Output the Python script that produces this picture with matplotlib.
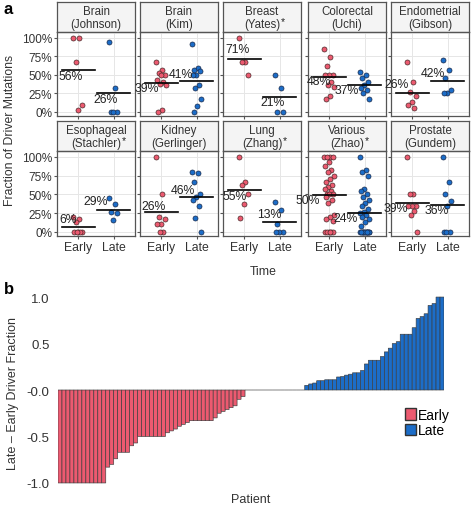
import numpy as np
import matplotlib
matplotlib.use("Agg")
import matplotlib.pyplot as plt
from matplotlib.patches import Patch

plt.rcParams['font.family'] = ['Liberation Sans', 'DejaVu Sans']

# ---- data: panel a (fraction of driver mutations per sample) ----
facet_top = ["Brain", "Brain", "Breast", "Colorectal", "Endometrial",
             "Esophageal", "Kidney", "Lung", "Various", "Prostate"]
facet_study = ["(Johnson)", "(Kim)", "(Yates)", "(Uchi)", "(Gibson)",
               "(Stachler)", "(Gerlinger)", "(Zhang)", "(Zhao)", "(Gundem)"]
starred = [False, False, True, False, False, True, False, True, True, False]

early_vals = [
    [1.0, 1.0, 0.67, 0.10, 0.03],
    [0.67, 0.56, 0.53, 0.50, 0.50, 0.43, 0.40, 0.38, 0.36, 0.02, 0.0],
    [1.0, 0.67, 0.67, 0.50],
    [0.85, 0.74, 0.62, 0.50, 0.50, 0.50, 0.41, 0.37, 0.34, 0.21, 0.18],
    [0.67, 0.40, 0.27, 0.22, 0.13, 0.09, 0.05],
    [0.20, 0.17, 0.13, 0.0, 0.0, 0.0, 0.0, 0.0],
    [1.0, 0.50, 0.20, 0.17, 0.11, 0.11, 0.0, 0.0],
    [1.0, 0.67, 0.63, 0.50, 0.37, 0.18],
    [1.0, 1.0, 1.0, 1.0, 0.93, 0.88, 0.83, 0.80, 0.75, 0.71, 0.67, 0.63, 0.60, 0.57, 0.55,
     0.50, 0.50, 0.50, 0.47, 0.42, 0.38, 0.22, 0.20, 0.17, 0.14, 0.0, 0.0, 0.0, 0.0, 0.0, 0.0],
    [1.0, 0.50, 0.50, 0.35, 0.34, 0.34, 0.28, 0.22, 0.0],
]
late_vals = [
    [0.95, 0.33, 0.0, 0.0, 0.0],
    [0.92, 0.60, 0.57, 0.55, 0.50, 0.50, 0.36, 0.33, 0.17, 0.08, 0.0],
    [0.50, 0.33, 0.0, 0.0],
    [0.54, 0.50, 0.46, 0.41, 0.36, 0.33, 0.30, 0.25, 0.18],
    [0.70, 0.57, 0.46, 0.29, 0.25, 0.25],
    [0.45, 0.37, 0.26, 0.25, 0.16],
    [0.80, 0.78, 0.67, 0.50, 0.46, 0.43, 0.34, 0.18, 0.0],
    [0.40, 0.29, 0.11, 0.0, 0.0, 0.0],
    [1.0, 0.83, 0.80, 0.75, 0.57, 0.54, 0.50, 0.47, 0.43, 0.39, 0.35, 0.30, 0.27, 0.25,
     0.22, 0.20, 0.17, 0.13, 0.08] + [0.0] * 14,
    [1.0, 0.67, 0.50, 0.41, 0.34, 0.0, 0.0, 0.0],
]
mean_labels_early = ["56%", "39%", "71%", "48%", "26%", "6%", "26%", "55%", "50%", "39%"]
mean_labels_late = ["26%", "41%", "21%", "37%", "42%", "29%", "46%", "13%", "24%", "36%"]

# label placement (dx, dy in data units) - layout only
lab_off_early = [(-0.2, -0.08), (-0.42, -0.07), (-0.2, 0.14), (-0.3, -0.06), (-0.45, 0.11),
                 (-0.28, 0.11), (-0.22, 0.08), (-0.28, -0.08), (-0.6, -0.07), (-0.45, -0.07)]
lab_off_late = [(-0.22, -0.08), (-0.45, 0.10), (-0.2, -0.08), (-0.5, -0.08), (-0.42, 0.11),
                (-0.5, 0.12), (-0.4, 0.10), (-0.28, 0.10), (-0.55, -0.07), (-0.3, -0.07)]

# ---- data: panel b (late - early driver fraction per patient) ----
diff_vals = ([-1.0] * 12 + [-0.83, -0.80, -0.74, -0.67, -0.67, -0.67, -0.60, -0.57]
             + [-0.50] * 7 + [-0.46, -0.44, -0.42, -0.39, -0.37, -0.35] + [-0.33] * 6
             + [-0.30, -0.25, -0.23, -0.21, -0.19, -0.17, -0.10, -0.07]
             + [0.0] * 15
             + [0.05, 0.065, 0.075, 0.10, 0.10, 0.11, 0.11, 0.11, 0.14, 0.145, 0.16, 0.17,
                0.185, 0.185, 0.21, 0.28, 0.32, 0.32, 0.32, 0.36, 0.41, 0.45, 0.50, 0.52,
                0.60, 0.60, 0.60, 0.67, 0.77, 0.79, 0.82, 0.91, 0.93, 1.0, 1.0])

RED = "#EC5A70"
BLUE = "#1C6DC8"
W, H = 472, 510

fig = plt.figure(figsize=(W / 100, H / 100), dpi=100)


def box(x0, y0, x1, y1):
    return [x0 / W, 1 - y1 / H, (x1 - x0) / W, (y1 - y0) / H]


col_x = [57, 140, 223, 308, 391]
row_y = [(3, 33, 117), (122, 152, 237)]
pw = 78

for k in range(10):
    r, c = divmod(k, 5)
    x0 = col_x[c]
    s_top, p_top, p_bot = row_y[r]

    # strip
    sax = fig.add_axes(box(x0, s_top, x0 + pw, p_top))
    sax.set_facecolor("#F4F4F4")
    sax.set_xticks([])
    sax.set_yticks([])
    for sp in sax.spines.values():
        sp.set_color("#555555")
        sp.set_linewidth(0.9)
    sax.text(0.5, 0.70, facet_top[k], ha="center", va="center", fontsize=8.3,
             color="#333333", transform=sax.transAxes)
    t2 = sax.text(0.5, 0.28, facet_study[k], ha="center", va="center", fontsize=8.3,
                  color="#333333", transform=sax.transAxes)
    if starred[k]:
        sax.annotate("*", xy=(1.0, 0.75), xycoords=t2, ha="left", va="center",
                     fontsize=7.5, color="#222222", xytext=(0.5, 0), textcoords="offset points")

    ax = fig.add_axes(box(x0, p_top, x0 + pw, p_bot))
    ax.patch.set_visible(False)
    ax.set_xlim(0.4, 2.6)
    ax.set_ylim(-0.055, 1.08)
    ax.set_yticks([0, 0.25, 0.5, 0.75, 1.0])
    ax.set_xticks([1, 2])
    ax.grid(True, color="#E6E6E6", lw=0.7, zorder=0)
    ax.set_axisbelow(True)
    for sp in ax.spines.values():
        sp.set_color("#555555")
        sp.set_linewidth(0.9)
    ax.tick_params(length=2, color="#555555", labelsize=8.5, pad=1.5, labelcolor="#333333")
    if c == 0:
        ax.set_yticklabels(["0%", "25%", "50%", "75%", "100%"])
    else:
        ax.set_yticklabels([])
    if r == 1:
        ax.set_xticklabels(["Early", "Late"], fontsize=8.8)
    else:
        ax.set_xticklabels([])

    for pos, vals, col, lab, off in [(1, early_vals[k], RED, mean_labels_early[k], lab_off_early[k]),
                                     (2, late_vals[k], BLUE, mean_labels_late[k], lab_off_late[k])]:
        v = np.array(vals)
        jit = ((np.arange(len(v)) * 0.618) % 1 - 0.5) * 0.28
        ax.scatter(pos + jit, v, s=13, color=col, edgecolor="#4A2A2A" if col == RED else "#1A2A4A",
                   linewidth=0.5, zorder=3, clip_on=False)
        m = v.mean()
        ax.plot([pos - 0.47, pos + 0.47], [m, m], color="black", lw=1.2, zorder=4)
        ax.text(pos + off[0], m + off[1], lab, ha="center", va="center", fontsize=8.8,
                color="#222222", zorder=5)

fig.text(10 / W, 1 - 130 / H, "Fraction of Driver Mutations", rotation=90, ha="center",
         va="center", fontsize=8.8, color="#333333")
fig.text(263 / W, 1 - 272 / H, "Time", ha="center", va="center", fontsize=8.8, color="#333333")
fig.text(4 / W, 1 - 10 / H, "a", ha="left", va="center", fontsize=12, fontweight="bold")
fig.text(4 / W, 1 - 290 / H, "b", ha="left", va="center", fontsize=12, fontweight="bold")

# ---- panel b ----
bx = fig.add_axes(box(58, 293.4, 444, 488.6))
idx = np.arange(len(diff_vals))
vals = np.array(diff_vals)
colors = [RED if d <= 0 else BLUE for d in vals]
bars = bx.bar(idx, vals, width=1.0, color=colors, edgecolor="#3A3A3A", linewidth=0.45)
for b in bars:
    b.set_snap(False)
bx.set_xlim(-0.5, len(vals) - 0.5)
bx.set_ylim(-1.05, 1.05)
bx.set_xticks([])
bx.set_yticks([1.0, 0.5, 0.0, -0.5, -1.0])
bx.set_yticklabels(["1.0", "0.5", "-0.0", "-0.5", "-1.0"])
bx.tick_params(length=0, labelsize=9.5, pad=6, labelcolor="#333333")
for sp in bx.spines.values():
    sp.set_visible(False)
bx.set_xlabel("Patient", fontsize=9, color="#333333", labelpad=4)
fig.text(13 / W, 1 - 393 / H, "Late \u2013 Early Driver Fraction", rotation=90, ha="center",
         va="center", fontsize=9, color="#333333")
bx.legend(handles=[Patch(facecolor=RED, edgecolor="#333333", label="Early"),
                   Patch(facecolor=BLUE, edgecolor="#333333", label="Late")],
          loc="upper left", bbox_to_anchor=((398 - 58) / 386, (488.6 - 402) / 195.2),
          frameon=False, fontsize=10, handlelength=0.8, handleheight=0.9,
          handletextpad=0.15, labelspacing=0.1, borderpad=0)

fig.savefig("out.png", dpi=100)
